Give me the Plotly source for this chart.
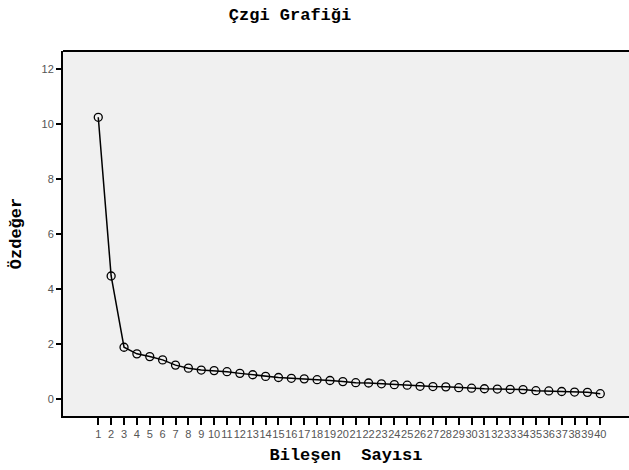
import plotly.graph_objects as go

components = list(range(1, 41))
eigenvalues = [10.24, 4.47, 1.88, 1.64, 1.54, 1.42, 1.23, 1.12, 1.05, 1.03,
               0.99, 0.93, 0.88, 0.82, 0.78, 0.75, 0.73, 0.70, 0.67, 0.63,
               0.59, 0.58, 0.55, 0.52, 0.50, 0.46, 0.45, 0.44, 0.41, 0.39,
               0.37, 0.36, 0.35, 0.34, 0.30, 0.29, 0.27, 0.25, 0.24, 0.19]
y_ticks = [0, 2, 4, 6, 8, 10, 12]

title_text = "Çzgi Grafiği"
x_title = "Bileşen&nbsp;&nbsp;Sayısı"
y_title = "Özdeğer"

mono = "Liberation Mono, Courier New, monospace"
sans = "Liberation Sans, Arial, sans-serif"

fig = go.Figure()
fig.add_trace(go.Scatter(
    x=components, y=eigenvalues, mode="lines+markers",
    line=dict(color="black", width=1.5),
    marker=dict(symbol="circle-open", size=8, color="black", line=dict(width=1.3)),
    showlegend=False,
))

fig.update_layout(
    width=640, height=470,
    autosize=False,
    margin=dict(l=63, r=11, t=51, b=54, autoexpand=False),
    paper_bgcolor="white",
    plot_bgcolor="#f0f0f0",
    title=dict(text="<b>" + title_text + "</b>", x=290 / 640, xref="container",
               xanchor="center", y=1 - 14 / 470, yref="container", yanchor="middle",
               font=dict(family=mono, size=17, color="black")),
    xaxis=dict(
        range=[-1.74, 42.23], tickmode="array", tickvals=components,
        ticktext=[str(c) for c in components], tickangle=0, automargin=False,
        ticks="outside", ticklen=7, tickwidth=1.5, tickcolor="black",
        showline=True, linecolor="black", linewidth=2, mirror=False,
        showgrid=False, zeroline=False,
        tickfont=dict(family=sans, size=11, color="#555555"),
        title=dict(text="<b>" + x_title + "</b>", standoff=9,
                   font=dict(family=mono, size=17, color="black")),
    ),
    yaxis=dict(
        range=[-0.62, 12.65], tickmode="array", tickvals=y_ticks, automargin=False,
        ticks="outside", ticklen=5, tickwidth=1.5, tickcolor="black",
        showline=True, linecolor="black", linewidth=2, mirror=False,
        showgrid=False, zeroline=False,
        tickfont=dict(family=sans, size=11, color="#555555"),
        title=dict(text="<b>" + y_title + "</b>", standoff=16,
                   font=dict(family=mono, size=17, color="black")),
    ),
)
fig.add_shape(type="line", xref="paper", yref="paper", x0=0, x1=1, y0=1, y1=1,
              line=dict(color="black", width=2))

fig.write_html("out.html", config={"displayModeBar": False},
               post_script="document.body.style.margin='0';document.body.style.overflow='hidden';")
